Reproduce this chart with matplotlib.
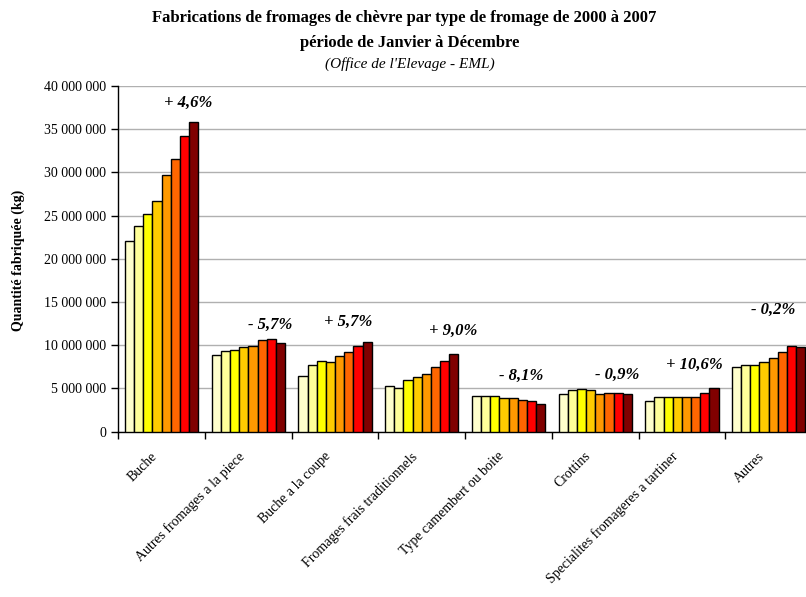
import matplotlib
matplotlib.use("Agg")
import matplotlib.pyplot as plt
import matplotlib.ticker as mticker
import matplotlib.transforms as mtransforms
import numpy as np

categories = ["Buche", "Autres fromages a la piece", "Buche a la coupe",
              "Fromages frais traditionnels", "Type camembert ou boite",
              "Crottins", "Specialites fromageres a tartiner", "Autres"]
years = ["2000", "2001", "2002", "2003", "2004", "2005", "2006", "2007"]

# values in kg, one list per year
y2000 = [22.1e6, 8.85e6, 6.4e6, 5.25e6, 4.17e6, 4.33e6, 3.6e6, 7.45e6]
y2001 = [23.85e6, 9.3e6, 7.75e6, 5.1e6, 4.17e6, 4.83e6, 3.98e6, 7.72e6]
y2002 = [25.2e6, 9.45e6, 8.2e6, 5.95e6, 4.17e6, 4.98e6, 3.98e6, 7.72e6]
y2003 = [26.7e6, 9.8e6, 8.07e6, 6.37e6, 3.86e6, 4.83e6, 3.98e6, 8.07e6]
y2004 = [29.7e6, 9.92e6, 8.72e6, 6.64e6, 3.86e6, 4.33e6, 3.98e6, 8.53e6]
y2005 = [31.6e6, 10.58e6, 9.19e6, 7.45e6, 3.7e6, 4.48e6, 3.98e6, 9.19e6]
y2006 = [34.2e6, 10.73e6, 9.95e6, 8.18e6, 3.55e6, 4.48e6, 4.48e6, 9.95e6]
y2007 = [35.8e6, 10.27e6, 10.38e6, 9.03e6, 3.2e6, 4.33e6, 5.09e6, 9.8e6]
series = [y2000, y2001, y2002, y2003, y2004, y2005, y2006, y2007]

colors = ["#FFFFCC", "#FFFF99", "#FFFF00", "#FFCC00",
          "#FF9900", "#FF6600", "#FF0000", "#800000"]

evolutions = ["+ 4,6%", "- 5,7%", "+ 5,7%", "+ 9,0%",
              "- 8,1%", "- 0,9%", "+ 10,6%", "- 0,2%"]
# label positions (x offset from group centre, height in kg)
evo_dx = [0.31, 0.255, 0.15, 0.36, 0.145, 0.25, 0.146, 0.057]
evo_y = [38.0e6, 12.35e6, 12.73e6, 11.69e6, 6.45e6, 6.56e6, 7.73e6, 14.09e6]

plt.rcParams['font.family'] = ['Liberation Serif', 'DejaVu Serif']

fig = plt.figure(figsize=(8.06, 5.97), dpi=100)
ax = fig.add_axes([118.3 / 806, 1 - 431.7 / 597, (812 - 118.3) / 806, (431.7 - 86) / 597])

x = np.arange(len(categories))
w = 0.1058
for j, (vals, c) in enumerate(zip(series, colors)):
    ax.bar(x + (j - 3.5) * w, vals, width=w, color=c, edgecolor='black',
           linewidth=1.0, label=years[j], zorder=3)

for i, txt in enumerate(evolutions):
    ax.text(i + evo_dx[i], evo_y[i], txt, ha='center', va='center',
            fontsize=12, fontweight='bold', fontstyle='italic', zorder=4)

ax.set_xlim(-0.5, 7.5)
ax.set_ylim(0, 40e6)
ax.set_yticks(np.arange(0, 40e6 + 1, 5e6))
ax.yaxis.set_major_formatter(mticker.FuncFormatter(
    lambda v, p: "{:,.0f}".format(v).replace(",", " ")))
ax.grid(axis='y', color='#b0b0b0', linewidth=1.0, zorder=0)
ax.set_axisbelow(True)

ax.set_xticks(x)
ax.set_xticklabels(categories, rotation=45, ha='right', rotation_mode='anchor', fontsize=10)
ax.set_xticks(np.arange(-0.5, 8.0, 1.0), minor=True)
ax.tick_params(axis='x', which='major', length=0, pad=10)
ax.tick_params(axis='x', which='minor', length=5, width=1, color='black')
ax.tick_params(axis='y', length=5, width=1, labelsize=10)

# shift the slanted category labels a little left/down
shift = mtransforms.ScaledTranslation(-11 / 100, -4 / 100, fig.dpi_scale_trans)
for lab in ax.get_xticklabels():
    lab.set_transform(lab.get_transform() + shift)

for s in ['top', 'right']:
    ax.spines[s].set_visible(False)
for s in ['left', 'bottom']:
    ax.spines[s].set_color('black')
    ax.spines[s].set_linewidth(1.0)

ax.set_ylabel("Quantité fabriquée (kg)", fontsize=10, fontweight='bold')
ax.yaxis.set_label_coords(-0.1345, 0.497)

fig.text(404 / 806, 1 - 18 / 597, "Fabrications de fromages de chèvre par type de fromage de 2000 à 2007",
         ha='center', va='center', fontsize=12, fontweight='bold')
fig.text(410 / 806, 1 - 43 / 597, "période de Janvier à Décembre",
         ha='center', va='center', fontsize=12, fontweight='bold')
fig.text(410 / 806, 1 - 64 / 597, "(Office de l'Elevage - EML)",
         ha='center', va='center', fontsize=11, fontstyle='italic')

fig.savefig("out.png", dpi=100)
